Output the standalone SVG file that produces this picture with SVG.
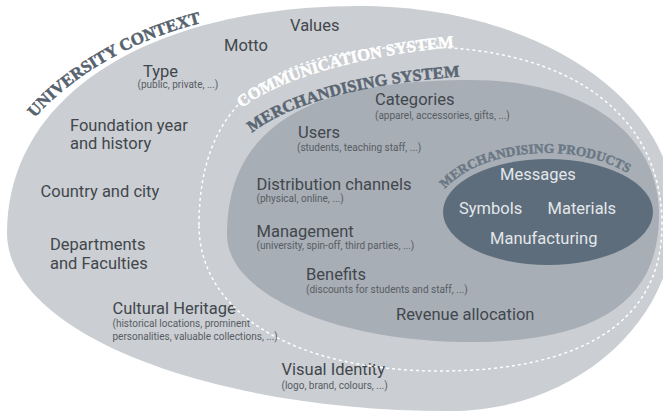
<svg xmlns="http://www.w3.org/2000/svg" width="663" height="413" viewBox="0 0 663 413">
<style>
.lbl{font-family:Roboto,"Liberation Sans",sans-serif;font-size:16.5px;fill:#41474d}
.sub{font-family:Roboto,"Liberation Sans",sans-serif;font-size:10px;fill:#575d64}
.inn{font-family:Roboto,"Liberation Sans",sans-serif;font-size:16.5px;fill:#e3e7ea}
.arc{font-family:"Liberation Serif","DejaVu Serif",serif;font-weight:bold;stroke-width:0.5px}
</style>
<defs>
<path id="pUniv" d="M35,118 C60,88 120,40 214,20"/>
<path id="pComm" d="M242,108 C272,84 345,56 464,46"/>
<path id="pMerch" d="M252,133 C285,106 360,82 472,76"/>
<path id="pProd" d="M445,189 A112,64 0 0 1 636,179"/>
</defs>
<rect width="663" height="413" fill="#ffffff"/>
<g id="university-context">
<path d="M7,233 C7,95 150,6 360,6 C536,6 675,99 675,215 C675,323 574,411 450,411 C205,411 7,331 7,233 Z" fill="#cbced2"/>
<text class="arc" font-size="17" fill="#56626e" stroke="#56626e"><textPath href="#pUniv">UNIVERSITY CONTEXT</textPath></text>
<text class="lbl" x="290" y="31">Values</text>
<text class="lbl" x="224" y="51">Motto</text>
<text class="lbl" x="143" y="77">Type</text>
<text class="sub" x="137.5" y="88">(public, private, ...)</text>
<text class="lbl" x="70" y="131">Foundation year</text>
<text class="lbl" x="70" y="149">and history</text>
<text class="lbl" x="40.5" y="197">Country and city</text>
<text class="lbl" x="50" y="250">Departments</text>
<text class="lbl" x="50" y="269">and Faculties</text>
<text class="lbl" x="112.5" y="314">Cultural Heritage</text>
<text class="sub" x="112.5" y="327">(historical locations, prominent</text>
<text class="sub" x="112.5" y="339.5">personalities, valuable collections, ...)</text>
<text class="lbl" x="281.5" y="375">Visual Identity</text>
<text class="sub" x="281.5" y="388.5">(logo, brand, colours, ...)</text>
</g>
<g id="communication-system">
<path d="M199,225 C199,104 270,47 420,47 C570,47 662,115 662,225 C662,320 584,371 440,371 C295,371 199,313 199,225 Z" fill="none" stroke="#ffffff" stroke-width="1.5" stroke-dasharray="3 3"/>
<text class="arc" font-size="16.5" fill="#ffffff" stroke="#ffffff"><textPath href="#pComm">COMMUNICATION SYSTEM</textPath></text>
</g>
<g id="merchandising-system">
<path d="M227,235 C227,120 320,80 470,80 C583,80 659,132 659,215 C659,301 598,342 470,342 C336,342 227,294 227,235 Z" fill="#a8aeb5"/>
<text class="arc" font-size="16.5" fill="#5a6673" stroke="#5a6673"><textPath href="#pMerch">MERCHANDISING SYSTEM</textPath></text>
<text class="lbl" x="375" y="105">Categories</text>
<text class="sub" x="375" y="118.5">(apparel, accessories, gifts, ...)</text>
<text class="lbl" x="298" y="137.5">Users</text>
<text class="sub" x="297" y="150.5">(students, teaching staff, ...)</text>
<text class="lbl" x="256.5" y="190">Distribution channels</text>
<text class="sub" x="256.5" y="202">(physical, online, ...)</text>
<text class="lbl" x="256.5" y="237">Management</text>
<text class="sub" x="256.5" y="249">(university, spin-off, third parties, ...)</text>
<text class="lbl" x="306" y="280">Benefits</text>
<text class="sub" x="306" y="292.5">(discounts for students and staff, ...)</text>
<text class="lbl" x="396" y="320">Revenue allocation</text>
</g>
<g id="merchandising-products">
<ellipse cx="548" cy="212" rx="105" ry="53" fill="#5d6d7c"/>
<text class="arc" font-size="13.4" fill="#6b7886" stroke="#6b7886"><textPath href="#pProd">MERCHANDISING PRODUCTS</textPath></text>
<text class="inn" x="500" y="180">Messages</text>
<text class="inn" x="459" y="213.5">Symbols</text>
<text class="inn" x="547.5" y="213.5">Materials</text>
<text class="inn" x="490" y="243.5">Manufacturing</text>
</g>
<g id="connectors"/>
</svg>
